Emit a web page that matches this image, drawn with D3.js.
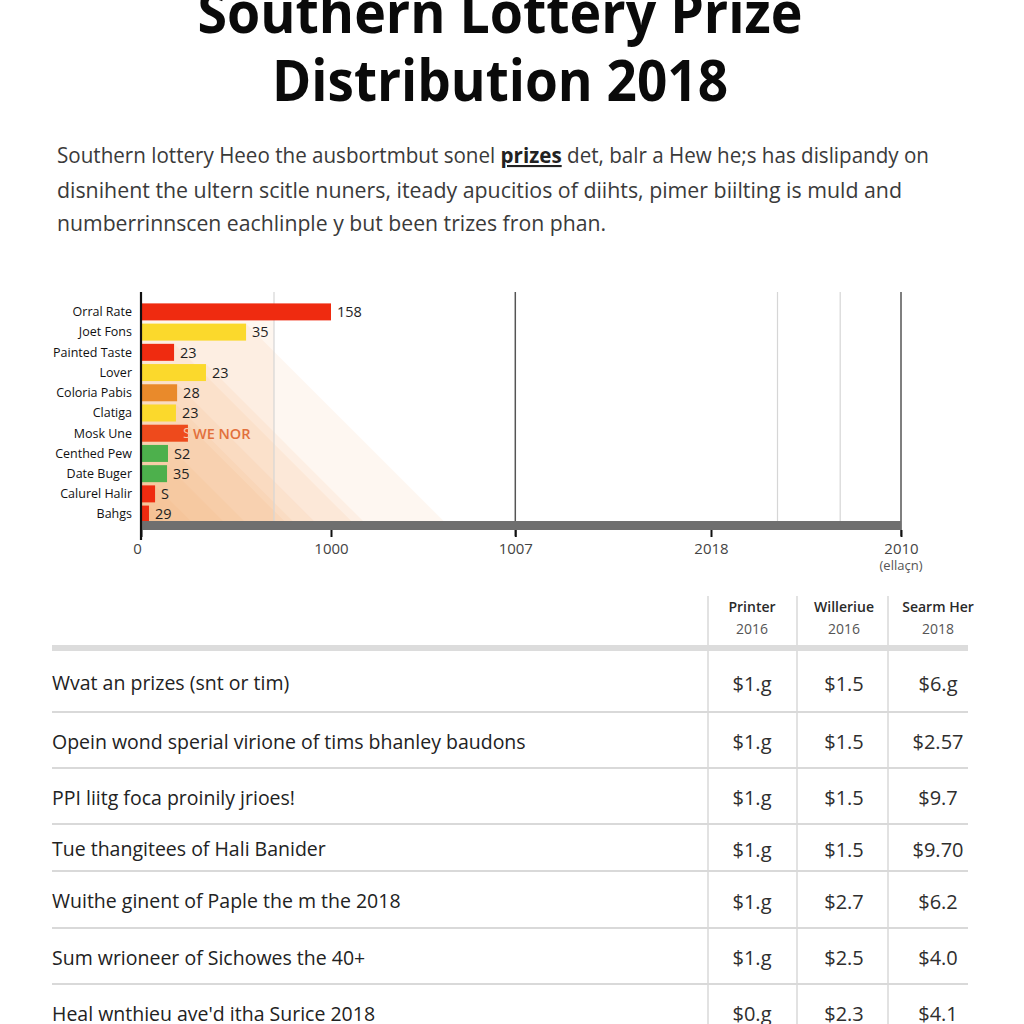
<!DOCTYPE html>
<html>
<head>
<meta charset="utf-8">
<script src="https://cdnjs.cloudflare.com/ajax/libs/d3/7.8.5/d3.min.js"></script>
<style>
  html, body { margin: 0; padding: 0; background: #ffffff; }
  svg { display: block; }
</style>
</head>
<body>
<svg id="chart" width="1024" height="1024"></svg>
<script>
// ---------------- DATA ----------------
const titleLines = ["Southern Lottery Prize", "Distribution 2018"];
const paragraphLines = [
  ["Southern lottery Heeo the ausbortmbut sonel ", "prizes", " det, balr a Hew he;s has dislipandy on"],
  ["disnihent the ultern scitle nuners, iteady apucitios of diihts, pimer biilting is muld and"],
  ["numberrinnscen eachlinple y but been trizes fron phan."]
];
const categories = ["Orral Rate", "Joet Fons", "Painted Taste", "Lover", "Coloria Pabis", "Clatiga",
  "Mosk Une", "Centhed Pew", "Date Buger", "Calurel Halir", "Bahgs"];
const barValues = [1000, 553, 174, 342, 190, 184, 247, 142, 137, 74, 42];
const barLabels = ["158", "35", "23", "23", "28", "23", "S", "S2", "35", "S", "29"];
const barColorKeys = ["red", "yellow", "red", "yellow", "orange", "yellow", "redorange", "green", "green", "red", "red"];
const annotationText = "WE NOR";
const annotationCategory = "Mosk Une";
const xTickValues = [0, 1000, 1970, 3000, 4000];
const xTickLabels = ["0", "1000", "1007", "2018", "2010"];
const xUnitLabel = "(ellaçn)";
const minorGridValues = [700, 3350, 3680];
const majorGridValues = [1970, 4000];

const tableColumns = ["Printer", "Willeriue", "Searm Her"];
const tableColumnYears = ["2016", "2016", "2018"];
const tableRowLabels = [
  "Wvat an prizes (snt or tim)",
  "Opein wond sperial virione of tims bhanley baudons",
  "PPI liitg foca proinily jrioes!",
  "Tue thangitees of Hali Banider",
  "Wuithe ginent of Paple the m the 2018",
  "Sum wrioneer of Sichowes the 40+",
  "Heal wnthieu ave'd itha Surice 2018"
];
const tableCol1 = ["$1.g", "$1.g", "$1.g", "$1.g", "$1.g", "$1.g", "$0.g"];
const tableCol2 = ["$1.5", "$1.5", "$1.5", "$1.5", "$2.7", "$2.5", "$2.3"];
const tableCol3 = ["$6.g", "$2.57", "$9.7", "$9.70", "$6.2", "$4.0", "$4.1"];

// ---------------- STYLE ----------------
const palette = {
  red: "#ef2b10", yellow: "#fbd92c", orange: "#e98a2b", redorange: "#ee4a1c", green: "#4db04c"
};
const FONT = "'Open Sans', 'Noto Sans', Arial, sans-serif";

const svg = d3.select("#chart");

function fit(sel, target) {
  sel.each(function () {
    const w = this.getComputedTextLength();
    if (Math.abs(w - target) > 1) {
      d3.select(this).attr("textLength", target).attr("lengthAdjust", "spacingAndGlyphs");
    }
  });
}

// ---------------- TITLE ----------------
const titleY = [33, 101];
const titleW = [605, 456];
titleLines.forEach((t, i) => {
  const el = svg.append("text")
    .attr("x", 500).attr("y", titleY[i])
    .attr("text-anchor", "middle")
    .attr("font-family", FONT).attr("font-weight", 700)
    .attr("font-size", 57).attr("fill", "#0a0a0a")
    .text(t);
  fit(el, titleW[i]);
});

// ---------------- PARAGRAPH ----------------
const paraY = [163, 198, 231];
const paraW = [872, 845, 549];
paragraphLines.forEach((parts, i) => {
  const el = svg.append("text")
    .attr("x", 57).attr("y", paraY[i])
    .attr("font-family", FONT).attr("font-size", 21).attr("fill", "#3a3a3a");
  parts.forEach((p) => {
    const ts = el.append("tspan").text(p);
    if (p === "prizes") {
      ts.attr("font-weight", 700).attr("text-decoration", "underline").attr("fill", "#222");
    }
  });
  fit(el, paraW[i]);
});

// ---------------- BAR CHART ----------------
const plot = { left: 141, right: 901, top: 303, bottom: 521 };
const x = d3.scaleLinear().domain([0, 4000]).range([plot.left, plot.right]);
const y = d3.scaleBand().domain(categories).range([plot.top, plot.bottom + 2]).paddingInner(0.16).paddingOuter(0.02);

const g = svg.append("g");

// peach tint behind bars
g.append("rect")
  .attr("x", plot.left).attr("y", plot.top)
  .attr("width", x(700) - plot.left).attr("height", plot.bottom - plot.top)
  .attr("fill", "#fbe6d2").attr("opacity", 0.35);

// long shadows
const shadowData = categories.map((c, i) => ({ c, v: barValues[i] })).slice(1);
g.selectAll("polygon.shadow").data(shadowData).join("polygon")
  .attr("class", "shadow")
  .attr("points", d => {
    const yt = y(d.c);
    const xe = x(d.v);
    const drop = plot.bottom - yt;
    return [[plot.left, yt], [xe, yt], [xe + drop, plot.bottom], [plot.left, plot.bottom]].map(p => p.join(",")).join(" ");
  })
  .attr("fill", "#f1a262").attr("opacity", 0.085);

// gridlines
g.selectAll("line.minor").data(minorGridValues).join("line")
  .attr("class", "minor")
  .attr("x1", d => x(d)).attr("x2", d => x(d))
  .attr("y1", 292).attr("y2", plot.bottom)
  .attr("stroke", "#d6d6d6").attr("stroke-width", 1.2);
g.selectAll("line.major").data(majorGridValues).join("line")
  .attr("class", "major")
  .attr("x1", d => x(d)).attr("x2", d => x(d))
  .attr("y1", 292).attr("y2", 536)
  .attr("stroke", "#555").attr("stroke-width", 1.5);

// bars
g.selectAll("rect.bar").data(categories).join("rect")
  .attr("class", "bar")
  .attr("x", plot.left + 1)
  .attr("y", d => y(d))
  .attr("width", (d, i) => x(barValues[i]) - plot.left - 1)
  .attr("height", y.bandwidth())
  .attr("fill", (d, i) => palette[barColorKeys[i]]);

// value labels
g.selectAll("text.val").data(categories).join("text")
  .attr("class", "val")
  .attr("x", (d, i) => x(barValues[i]) + (d === annotationCategory ? -5 : 6))
  .attr("y", d => y(d) + y.bandwidth() / 2)
  .attr("dy", "0.36em")
  .attr("font-family", FONT).attr("font-size", 14.5)
  .attr("fill", d => d === annotationCategory ? "#f7c7a8" : "#1e1e1e")
  .text((d, i) => barLabels[i]);

// annotation
g.append("text")
  .attr("x", x(barValues[categories.indexOf(annotationCategory)]) + 5)
  .attr("y", y(annotationCategory) + y.bandwidth() / 2 + 1)
  .attr("dy", "0.36em")
  .attr("font-family", FONT).attr("font-size", 14.5).attr("font-weight", 600)
  .attr("fill", "#e2703c")
  .text(annotationText);

// category labels
g.selectAll("text.cat").data(categories).join("text")
  .attr("class", "cat")
  .attr("x", 132)
  .attr("y", d => y(d) + y.bandwidth() / 2)
  .attr("dy", "0.35em")
  .attr("text-anchor", "end")
  .attr("font-family", FONT).attr("font-size", 12.5).attr("font-weight", 500).attr("fill", "#111")
  .text(d => d);

// gray base band
g.append("rect")
  .attr("x", plot.left).attr("y", plot.bottom)
  .attr("width", plot.right - plot.left).attr("height", 9)
  .attr("fill", "#6f6f6f");

// left axis line
g.append("line")
  .attr("x1", plot.left).attr("x2", plot.left)
  .attr("y1", 292).attr("y2", 540)
  .attr("stroke", "#111").attr("stroke-width", 2.2);

// x axis
const xAxis = d3.axisBottom(x).tickValues(xTickValues)
  .tickFormat((d, i) => xTickLabels[i]).tickSize(7).tickPadding(6);
const ax = svg.append("g").attr("transform", `translate(0,${plot.bottom + 9})`).call(xAxis);
ax.select(".domain").remove();
ax.selectAll(".tick line").attr("stroke", "#111").attr("stroke-width", 2);
ax.selectAll(".tick text").attr("font-family", FONT).attr("font-size", 15).attr("fill", "#444");
ax.selectAll(".tick").filter(d => d === 0).select("text").attr("dx", -4);
svg.append("text")
  .attr("x", x(4000)).attr("y", 570)
  .attr("text-anchor", "middle")
  .attr("font-family", FONT).attr("font-size", 13).attr("fill", "#555")
  .text(xUnitLabel);

// ---------------- TABLE ----------------
const tbl = { left: 52, right: 968 };
const colBounds = [708, 797, 888, 968];
const colCenters = [752, 844, 938];
const rowBounds = [651, 712, 768, 824, 871, 928, 984, 1040];
const t = svg.append("g");

t.selectAll("line.vcol").data(colBounds.slice(0, 3)).join("line")
  .attr("class", "vcol")
  .attr("x1", d => d).attr("x2", d => d)
  .attr("y1", 596).attr("y2", 1024)
  .attr("stroke", "#d9d9d9").attr("stroke-width", 1.5);

t.selectAll("text.hname").data(tableColumns).join("text")
  .attr("class", "hname")
  .attr("x", (d, i) => colCenters[i]).attr("y", 612)
  .attr("text-anchor", "middle")
  .attr("font-family", FONT).attr("font-size", 14).attr("font-weight", 600).attr("fill", "#2a2a2a")
  .text(d => d);
t.selectAll("text.hyear").data(tableColumnYears).join("text")
  .attr("class", "hyear")
  .attr("x", (d, i) => colCenters[i]).attr("y", 634)
  .attr("text-anchor", "middle")
  .attr("font-family", FONT).attr("font-size", 14).attr("fill", "#555")
  .text(d => d);

t.append("rect")
  .attr("x", tbl.left).attr("y", 645)
  .attr("width", tbl.right - tbl.left).attr("height", 6)
  .attr("fill", "#dcdcdc");

t.selectAll("line.rsep").data(rowBounds.slice(1, 7)).join("line")
  .attr("class", "rsep")
  .attr("x1", tbl.left).attr("x2", tbl.right)
  .attr("y1", d => d).attr("y2", d => d)
  .attr("stroke", "#d9d9d9").attr("stroke-width", 2);

const rowMid = i => (rowBounds[i] + rowBounds[i + 1]) / 2 + 2;
t.selectAll("text.rlabel").data(tableRowLabels).join("text")
  .attr("class", "rlabel")
  .attr("x", tbl.left).attr("y", (d, i) => rowMid(i))
  .attr("dy", "0.35em")
  .attr("font-family", FONT).attr("font-size", 19.5).attr("fill", "#222")
  .text(d => d);

[tableCol1, tableCol2, tableCol3].forEach((col, ci) => {
  t.selectAll("text.c" + ci).data(col).join("text")
    .attr("class", "c" + ci)
    .attr("x", colCenters[ci]).attr("y", (d, i) => rowMid(i))
    .attr("dy", "0.35em")
    .attr("text-anchor", "middle")
    .attr("font-family", FONT).attr("font-size", 20).attr("fill", "#2e2e2e")
    .text(d => d);
});
</script>
</body>
</html>
